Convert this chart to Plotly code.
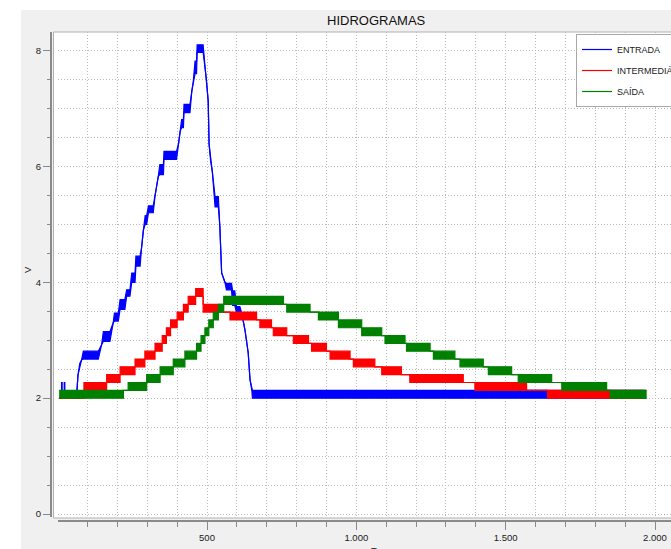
import plotly.graph_objects as go

W, H = 671, 549

# ---------------- data ----------------
# Each series is a list of segments: start time, end time, low level, high level
# (high > low where the signal flickers between two quantisation levels)

BLUE_T0 = [5, 13, 15, 22, 24, 68, 74, 80, 86, 147, 153, 186, 190, 209, 231, 248, 262, 281, 287, 293,
           304, 326, 337, 342, 356, 405, 410, 415, 423, 449, 454, 460, 467, 493, 498, 504, 507, 512,
           518, 527, 543, 549, 560, 565, 586, 599, 616, 627, 638, 644, 650, 652]
BLUE_T1 = [13, 15, 22, 24, 63, 68, 74, 80, 136, 147, 175, 186, 203, 225, 242, 259, 276, 281, 287, 298,
           320, 326, 337, 354, 398, 405, 410, 421, 443, 449, 454, 465, 487, 493, 498, 504, 507, 512,
           518, 538, 543, 549, 560, 582, 593, 610, 616, 627, 638, 644, 650, 1970]
BLUE_LO = [2.0, 2.0, 2.0, 2.0, 2.0, 2.4, 2.55, 2.66, 2.675, 2.92, 2.98, 3.3, 3.33, 3.53, 3.76, 4.0, 4.28, 4.6, 4.9, 5.0,
           5.2, 5.49, 5.83, 5.86, 6.12, 6.4, 6.6, 6.67, 6.93, 7.3, 7.47, 7.6, 7.97, 7.75, 7.5, 7.13, 6.38, 6.1,
           5.9, 5.3, 4.96, 4.16, 4.0, 3.87, 3.6, 3.47, 3.47, 3.18, 2.78, 2.32, 2.14, 2.0]
BLUE_HI = [2.0, 2.27, 2.0, 2.27, 2.0, 2.4, 2.6, 2.66, 2.81, 2.92, 3.15, 3.3, 3.47, 3.7, 3.87, 4.16, 4.45, 4.6, 4.9, 5.15,
           5.32, 5.49, 5.83, 6.03, 6.26, 6.4, 6.6, 6.81, 7.07, 7.3, 7.47, 7.82, 8.1, 7.75, 7.5, 7.13, 6.38, 6.1,
           5.9, 5.48, 4.96, 4.16, 4.0, 3.98, 3.85, 3.58, 3.47, 3.18, 2.78, 2.32, 2.14, 2.135]

RED_T0 = [5, 88, 164, 209, 259, 292, 326, 350, 364, 378, 400, 421, 437, 462, 487, 554, 577, 666, 677, 716,
          722, 767, 789, 840, 850, 900, 912, 979, 990, 1062, 1085, 1151, 1179, 1358, 1397, 1570, 1640]
RED_T1 = [88, 164, 209, 259, 292, 326, 350, 364, 378, 400, 421, 437, 462, 487, 554, 577, 666, 677, 716, 722,
          767, 789, 840, 850, 900, 912, 979, 990, 1062, 1085, 1151, 1179, 1358, 1397, 1570, 1640, 1962]
RED_LO = [2.0, 2.135, 2.27, 2.405, 2.54, 2.675, 2.81, 2.945, 3.08, 3.215, 3.35, 3.485, 3.62, 3.755, 3.485, 3.485,
          3.35, 3.35, 3.215, 3.215, 3.08, 3.08, 2.945, 2.945, 2.81, 2.81, 2.675, 2.675, 2.54, 2.54, 2.405, 2.405,
          2.27, 2.27, 2.135, 2.135, 2.0]
RED_HI = [2.0, 2.27, 2.405, 2.54, 2.675, 2.81, 2.945, 3.08, 3.215, 3.35, 3.485, 3.62, 3.755, 3.89, 3.62, 3.485,
          3.485, 3.35, 3.35, 3.215, 3.215, 3.08, 3.08, 2.945, 2.945, 2.81, 2.81, 2.675, 2.675, 2.54, 2.54, 2.405,
          2.405, 2.27, 2.27, 2.135, 2.135]

GREEN_T0 = [5, 220, 236, 298, 343, 387, 426, 465, 480, 493, 506, 521, 538, 556, 756, 767, 845, 873, 940, 1018,
            1085, 1096, 1163, 1168, 1247, 1258, 1330, 1347, 1425, 1442, 1520, 1542, 1654, 1688, 1838, 1850]
GREEN_T1 = [220, 236, 298, 343, 387, 426, 465, 480, 493, 506, 521, 538, 556, 756, 767, 845, 873, 940, 1018, 1085,
            1096, 1163, 1168, 1247, 1258, 1330, 1347, 1425, 1442, 1520, 1542, 1654, 1688, 1838, 1850, 1972]
GREEN_LO = [2.0, 2.135, 2.135, 2.27, 2.405, 2.54, 2.675, 2.81, 2.945, 3.08, 3.215, 3.35, 3.485, 3.62, 3.62, 3.485,
            3.485, 3.35, 3.215, 3.08, 3.08, 2.945, 2.945, 2.81, 2.81, 2.675, 2.675, 2.54, 2.54, 2.405, 2.405, 2.27,
            2.27, 2.135, 2.135, 2.0]
GREEN_HI = [2.135, 2.135, 2.27, 2.405, 2.54, 2.675, 2.81, 2.945, 3.08, 3.215, 3.35, 3.485, 3.62, 3.755, 3.62, 3.62,
            3.485, 3.485, 3.35, 3.215, 3.08, 3.08, 2.945, 2.945, 2.81, 2.81, 2.675, 2.675, 2.54, 2.54, 2.405, 2.405,
            2.27, 2.27, 2.135, 2.135]

SERIES_NAMES = ["ENTRADA", "INTERMEDIÁRIO", "SAÍDA"]
SERIES_COLORS = ["#0000ff", "#ff0000", "#008000"]

X_TICK_VALS = [500, 1000, 1500, 2000]
X_TICK_TEXT = ["500", "1.000", "1.500", "2.000"]
Y_TICK_VALS = [0, 2, 4, 6, 8]
Y_TICK_TEXT = ["0", "2", "4", "6", "8"]

TITLE = "HIDROGRAMAS"
X_TITLE = "T"
Y_TITLE = "V"

# ---------------- helpers ----------------
def px_x(p):
    return p / W


def px_y(p):
    return (H - p) / H


def envelope(t0, t1, lo, hi):
    xs, ylo, yhi = [], [], []
    for a, b, l, h in zip(t0, t1, lo, hi):
        xs += [a, b]
        ylo += [l, l]
        yhi += [h, h]
    return xs, ylo, yhi


series = [
    (BLUE_T0, BLUE_T1, BLUE_LO, BLUE_HI),
    (RED_T0, RED_T1, RED_LO, RED_HI),
    (GREEN_T0, GREEN_T1, GREEN_LO, GREEN_HI),
]

fig = go.Figure()
for (t0, t1, lo, hi), name, col in zip(series, SERIES_NAMES, SERIES_COLORS):
    xs, ylo, yhi = envelope(t0, t1, lo, hi)
    fig.add_trace(go.Scatter(x=xs, y=ylo, mode="lines", name=name, legendgroup=name,
                             line=dict(color=col, width=1.2), hoverinfo="skip"))
    fig.add_trace(go.Scatter(x=xs, y=yhi, mode="lines", name=name, legendgroup=name, showlegend=False,
                             fill="tonexty", fillcolor=col,
                             line=dict(color=col, width=1.2), hoverinfo="skip"))

# pixel geometry of the reference
X0_PX, PX_PER_T = 57.67, 0.29867          # t = 0 at x=57.67px
Y0_PX, PX_PER_V = 514.0, 57.93            # v = 0 at y=514px
PLOT_L, PLOT_R = 57.8, 671.0
PLOT_T, PLOT_B = 32.0, 517.0

x_range = [(PLOT_L - X0_PX) / PX_PER_T, (PLOT_R - X0_PX) / PX_PER_T]
y_range = [(Y0_PX - PLOT_B) / PX_PER_V, (Y0_PX - PLOT_T) / PX_PER_V]

axis_col = "#8a8a8a"
grid_col = "#b9b9b9"
tick_font = dict(family="Liberation Sans, Arial, sans-serif", size=9.5, color="#202020")

fig.update_layout(
    width=W, height=H, autosize=False,
    margin=dict(l=0, r=0, t=0, b=0, autoexpand=False),
    paper_bgcolor="white", plot_bgcolor="rgba(0,0,0,0)",
    font=dict(family="Liberation Sans, Arial, sans-serif", size=9.5, color="#202020"),
    showlegend=True,
    legend=dict(x=px_x(576), y=px_y(34), xanchor="left", yanchor="top",
                bgcolor="white", bordercolor="#a8a8a8", borderwidth=1,
                font=dict(size=9, color="#202020"), tracegroupgap=2, itemwidth=30,
                traceorder="grouped"),
    xaxis=dict(domain=[px_x(PLOT_L), 1], range=x_range, anchor="free", position=px_y(521),
               showline=True, linecolor=axis_col, linewidth=2,
               ticks="outside", ticklen=8, tickwidth=1, tickcolor=axis_col,
               tickmode="array", tickvals=X_TICK_VALS, ticktext=X_TICK_TEXT, tickfont=tick_font,
               showgrid=True, gridcolor=grid_col, griddash="1px,2px", gridwidth=1, zeroline=False,
               minor=dict(tick0=0, dtick=100, ticks="outside", ticklen=5, tickwidth=1, tickcolor=axis_col,
                          showgrid=True, gridcolor=grid_col, griddash="1px,2px", gridwidth=1)),
    yaxis=dict(domain=[px_y(PLOT_B), px_y(PLOT_T)], range=y_range, anchor="free", position=px_x(51),
               showline=True, linecolor=axis_col, linewidth=2,
               ticks="outside", ticklen=7, tickwidth=1, tickcolor=axis_col,
               tickmode="array", tickvals=Y_TICK_VALS, ticktext=Y_TICK_TEXT, tickfont=tick_font,
               showgrid=True, gridcolor=grid_col, griddash="1px,2px", gridwidth=1, zeroline=False,
               minor=dict(tick0=0, dtick=0.5, ticks="outside", ticklen=3, tickwidth=1, tickcolor=axis_col,
                          showgrid=True, gridcolor=grid_col, griddash="1px,2px", gridwidth=1)),
    shapes=[
        dict(type="rect", xref="paper", yref="paper", x0=px_x(21), x1=1.01, y0=-0.01, y1=px_y(10),
             fillcolor="#f0f0f0", line=dict(width=0), layer="below"),
        dict(type="rect", xref="paper", yref="paper", x0=px_x(53.5), x1=1.01, y0=px_y(518), y1=px_y(32),
             fillcolor="white", line=dict(color="#b0b0b0", width=1), layer="below"),
    ],
    annotations=[
        dict(text=TITLE, xref="paper", yref="paper", x=px_x(376), y=px_y(20), xanchor="center",
             yanchor="middle", showarrow=False, font=dict(size=13, color="#101010")),
        dict(text=Y_TITLE, xref="paper", yref="paper", x=px_x(27), y=px_y(270), xanchor="center",
             yanchor="middle", textangle=-90, showarrow=False, font=dict(size=9.5, color="#202020")),
        dict(text=X_TITLE, xref="paper", yref="paper", x=px_x(374), y=px_y(543), xanchor="center",
             yanchor="top", showarrow=False, font=dict(size=9.5, color="#202020")),
    ],
)

fig.write_html("out.html")
